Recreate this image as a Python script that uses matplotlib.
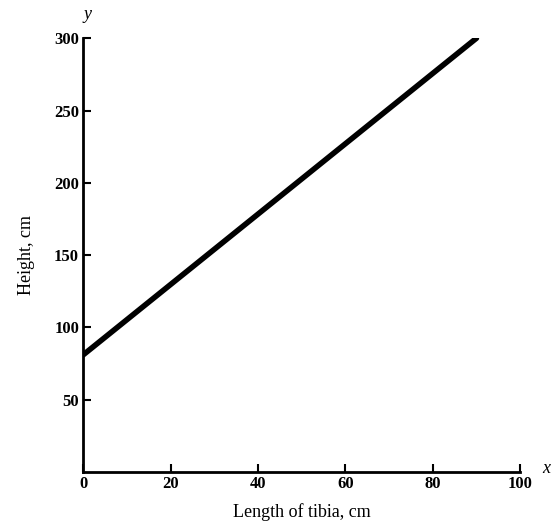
import matplotlib.pyplot as plt

# height vs tibia length
tibia = [0, 90]
height = [81, 300]
xticks = [0, 20, 40, 60, 80, 100]
yticks = [50, 100, 150, 200, 250, 300]

plt.rcParams['font.family'] = ['Liberation Serif', 'DejaVu Serif']

fig = plt.figure(figsize=(5.51, 5.22), dpi=100)
ax = fig.add_axes([0.151, 0.0958, 0.793, 0.831])

ax.plot(tibia, height, color='black', linewidth=4, solid_capstyle='round')

ax.set_xlim(0, 100)
ax.set_ylim(0, 300)
ax.set_xticks(xticks)
ax.set_yticks(yticks)
ax.tick_params(direction='in', length=6, width=1.5, labelsize=12, pad=3)
for lbl in ax.get_xticklabels() + ax.get_yticklabels():
    lbl.set_fontweight('bold')

for s in ['top', 'right']:
    ax.spines[s].set_visible(False)
for s in ['left', 'bottom']:
    ax.spines[s].set_linewidth(2)

ax.set_xlabel("Length of tibia, cm", fontsize=13, labelpad=8)
ax.set_ylabel("Height, cm", fontsize=13, labelpad=14)

fig.text(0.158, 0.972, "y", fontsize=13, style='italic', ha='center', va='center')
fig.text(0.991, 0.103, "x", fontsize=13, style='italic', ha='center', va='center')

fig.savefig("out.png", dpi=100)
